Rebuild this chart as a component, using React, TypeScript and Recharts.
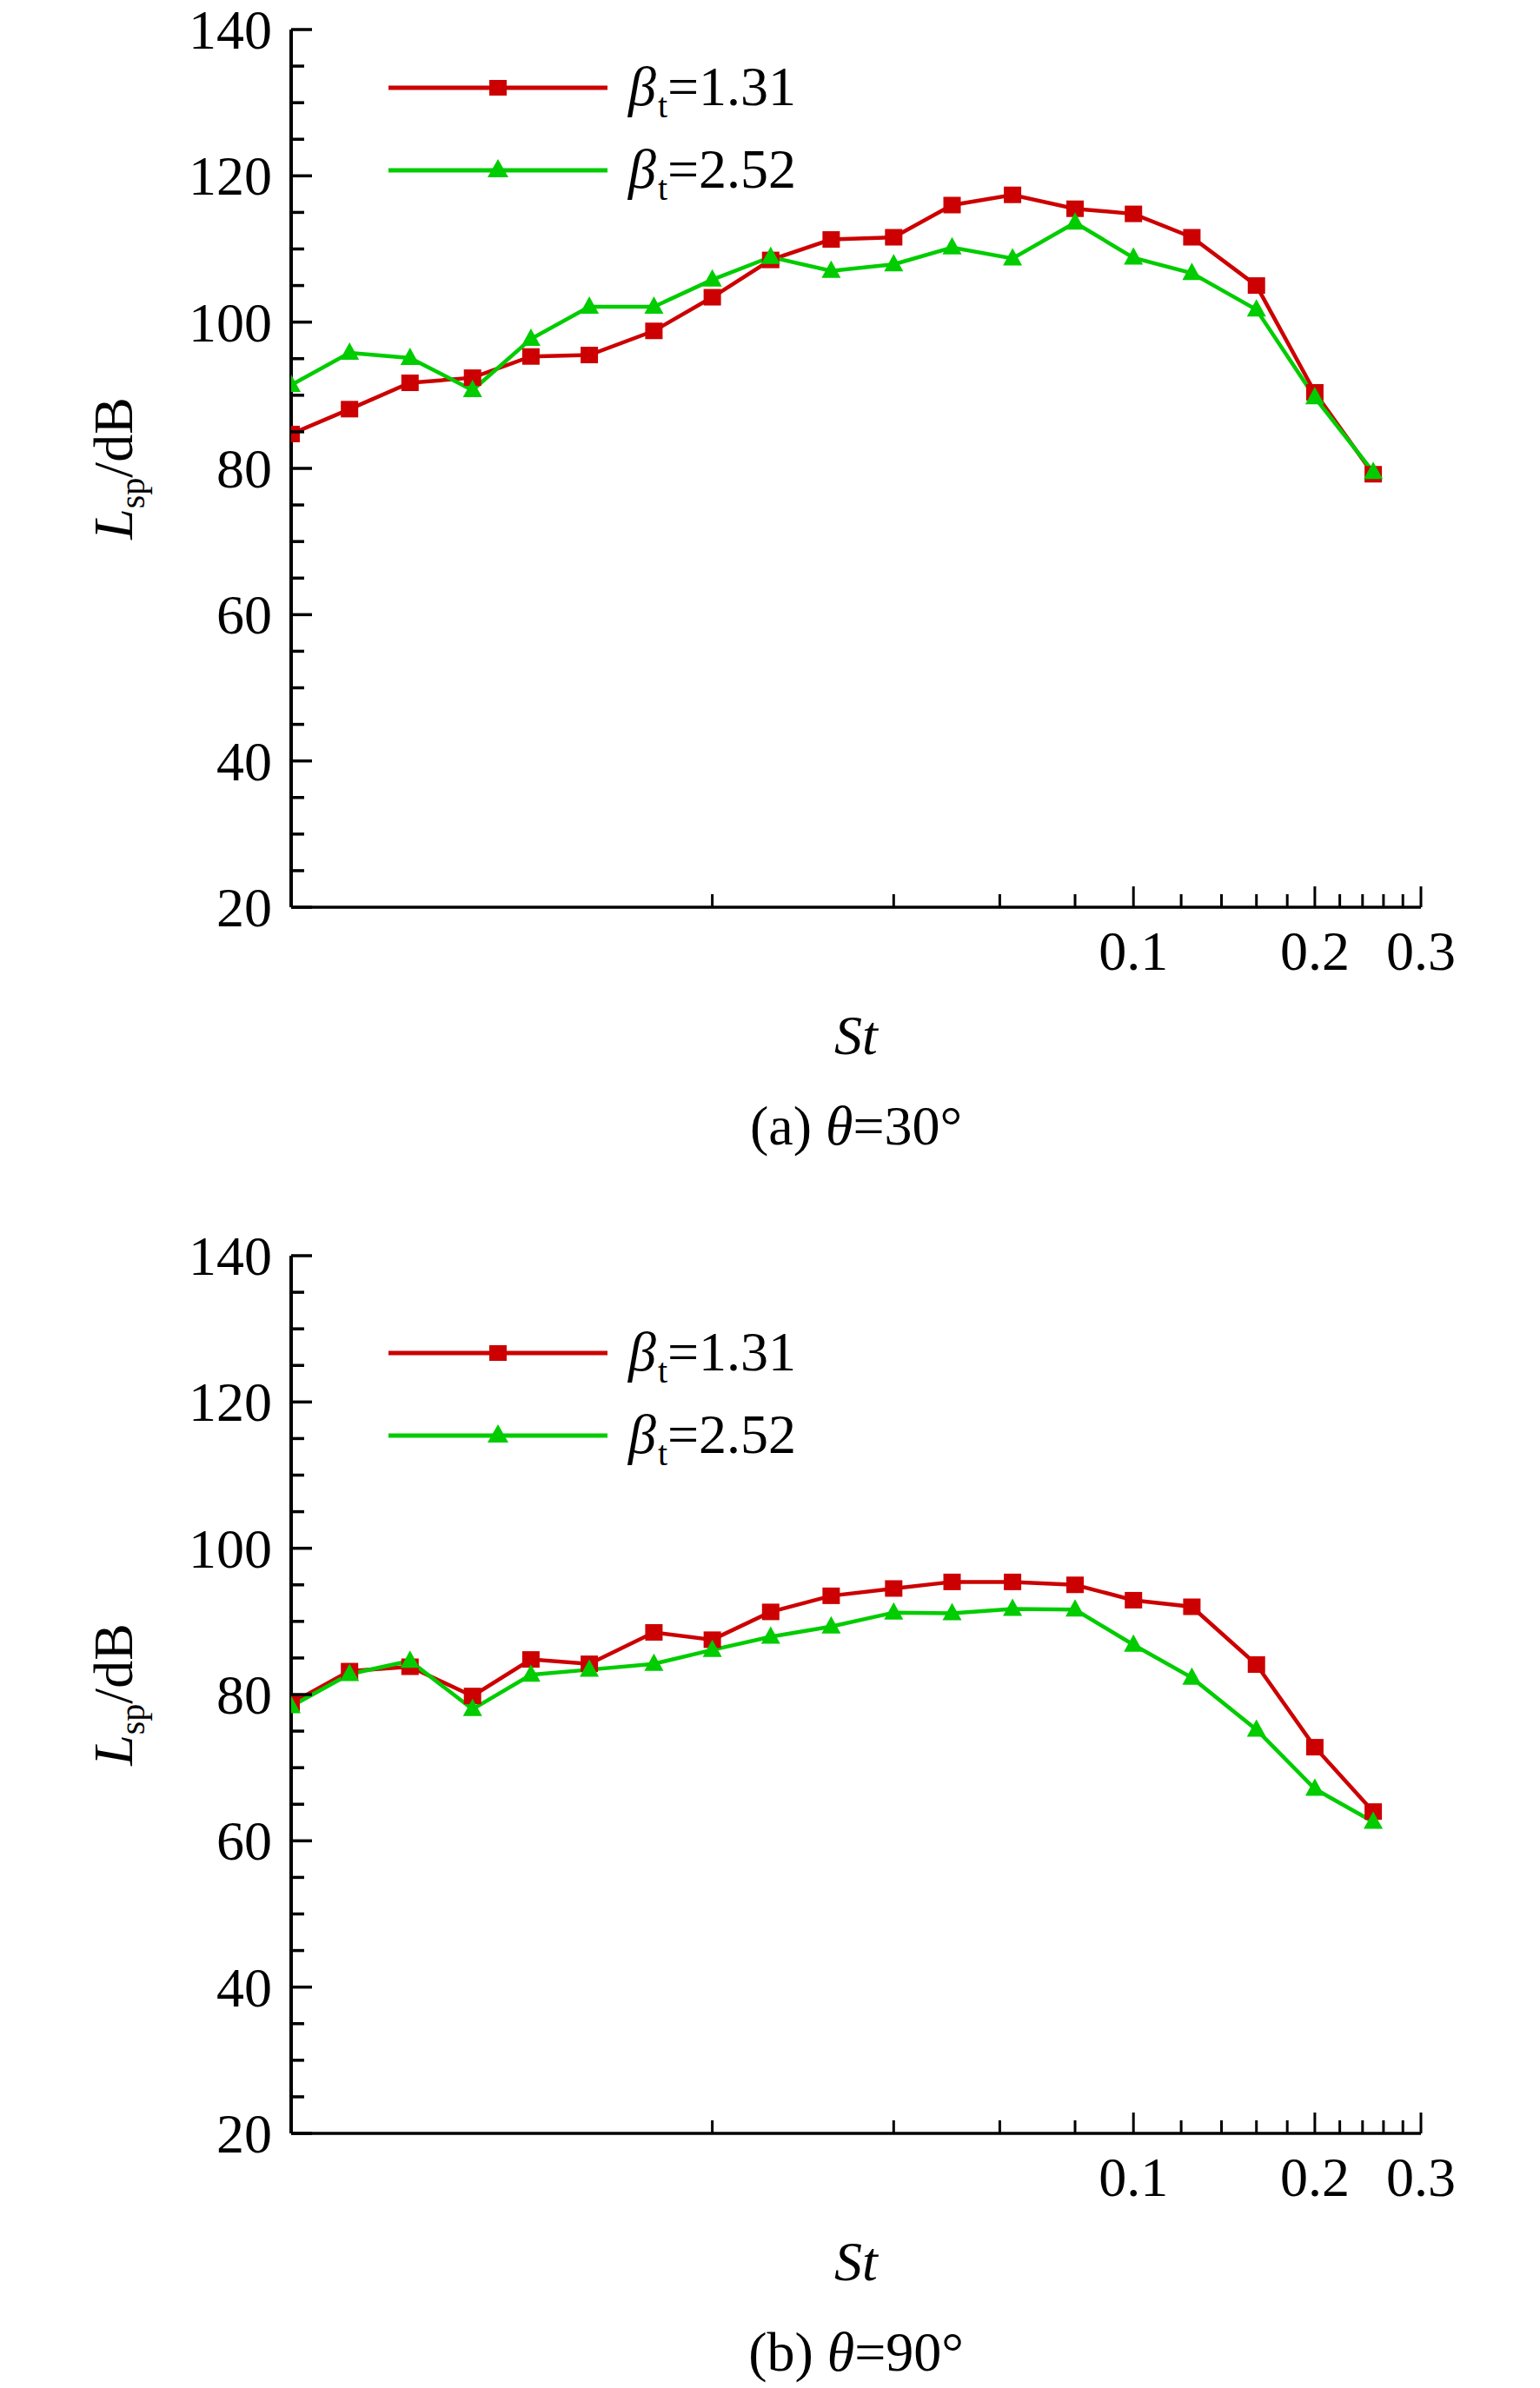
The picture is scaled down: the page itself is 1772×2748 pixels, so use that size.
import React from 'react';
import { LineChart, Line, XAxis, YAxis, Legend } from 'recharts';

// Strouhal numbers (1/3-octave band centres)
const ST_VALUES = [0.004, 0.005, 0.0063, 0.008, 0.01, 0.0125, 0.016, 0.02, 0.025, 0.0315, 0.04, 0.05, 0.063, 0.08, 0.1, 0.125, 0.16, 0.2, 0.25];

// (a) theta = 30 deg
const RED_30 = [84.7, 88.1, 91.7, 92.4, 95.3, 95.5, 98.8, 103.4, 108.5, 111.3, 111.6, 116.0, 117.4, 115.5, 114.8, 111.6, 105.0, 90.4, 79.2];
const GREEN_30 = [91.4, 95.8, 95.1, 90.7, 97.7, 102.1, 102.1, 105.8, 108.9, 107.0, 107.9, 110.2, 108.7, 113.6, 108.8, 106.7, 101.7, 89.7, 79.5];

// (b) theta = 90 deg
const RED_90 = [78.8, 83.2, 83.8, 79.8, 84.8, 84.2, 88.5, 87.5, 91.3, 93.5, 94.5, 95.4, 95.4, 95.0, 92.9, 92.0, 84.1, 72.8, 64.0];
const GREEN_90 = [78.4, 82.8, 84.6, 78.0, 82.7, 83.4, 84.2, 86.1, 87.9, 89.3, 91.2, 91.1, 91.7, 91.6, 86.8, 82.3, 75.2, 67.1, 62.6];

const X_TICKS = [0.02, 0.04, 0.06, 0.08, 0.1, 0.12, 0.14, 0.16, 0.18, 0.2, 0.22, 0.24, 0.26, 0.28, 0.3];
const X_LABELLED = [0.1, 0.2, 0.3];
const Y_TICKS = [20, 25, 30, 35, 40, 45, 50, 55, 60, 65, 70, 75, 80, 85, 90, 95, 100, 105, 110, 115, 120, 125, 130, 135, 140];
const Y_LABELLED = [20, 40, 60, 80, 100, 120, 140];

const SERIES_NAMES = ['1.31', '2.52'];

const RED = '#cc0000';
const GREEN = '#00cc00';
const FONT = '"Liberation Serif", "Times New Roman", serif';
const FS = 64;

const W = 1772;
const H = 1337;

function buildData(red: number[], green: number[]) {
  return ST_VALUES.map((st, i) => ({ st, b131: red[i], b252: green[i] }));
}

const XTick = (props: any) => {
  const { x, y, payload } = props;
  const v = payload.value;
  const major = X_LABELLED.includes(v);
  const len = major ? 24 : 15;
  return (
    <g>
      <line x1={x} x2={x} y1={y} y2={y - len} stroke="#000" strokeWidth={3} />
      {major && (
        <text x={x} y={y + 72} textAnchor="middle" fontFamily={FONT} fontSize={FS} fill="#000">
          {String(v)}
        </text>
      )}
    </g>
  );
};

const YTick = (props: any) => {
  const { x, y, payload } = props;
  const v = payload.value;
  const major = Y_LABELLED.includes(v);
  const len = major ? 24 : 15;
  return (
    <g>
      <line x1={x} x2={x + len} y1={y} y2={y} stroke="#000" strokeWidth={3.5} />
      {major && (
        <text x={x - 22} y={y + 22} textAnchor="end" fontFamily={FONT} fontSize={FS} fill="#000">
          {String(v)}
        </text>
      )}
    </g>
  );
};

const SquareDot = (props: any) => {
  const { cx, cy, index } = props;
  if (cx == null || cy == null) return <g key={'s' + index} />;
  return <rect key={'s' + index} x={cx - 10} y={cy - 9.5} width={20} height={19} fill={RED} />;
};

const TriDot = (props: any) => {
  const { cx, cy, index } = props;
  if (cx == null || cy == null) return <g key={'t' + index} />;
  const pts = `${cx},${cy - 12} ${cx - 11},${cy + 8} ${cx + 11},${cy + 8}`;
  return <polygon key={'t' + index} points={pts} fill={GREEN} />;
};

function makeLegend(rowY: number) {
  return () => {
    const rows = [
      { color: RED, name: SERIES_NAMES[0], shape: 'square' },
      { color: GREEN, name: SERIES_NAMES[1], shape: 'tri' },
    ];
    return (
      <svg width={W} height={rowY + 200} style={{ display: 'block', overflow: 'visible' }}>
        {rows.map((r, i) => {
          const y = rowY + i * 95;
          const mx = 573;
          return (
            <g key={i}>
              <line x1={447} x2={699} y1={y} y2={y} stroke={r.color} strokeWidth={5} />
              {r.shape === 'square' ? (
                <rect x={mx - 10} y={y - 9} width={20} height={18} fill={r.color} />
              ) : (
                <polygon points={`${mx},${y - 13} ${mx - 12},${y + 8} ${mx + 12},${y + 8}`} fill={r.color} />
              )}
              <text x={723} y={y + 20} fontFamily={FONT} fontSize={FS} fill="#000">
                <tspan fontStyle="italic">β</tspan>
                <tspan fontSize={40} dy={14} dx={2}>t</tspan>
                <tspan dy={-14}>={r.name}</tspan>
              </text>
            </g>
          );
        })}
      </svg>
    );
  };
}

function makeXLabel(tag: string, angle: string) {
  return (props: any) => {
    const vb = props.viewBox || { x: 335, y: 1044, width: 1300, height: 30 };
    const cx = vb.x + vb.width / 2;
    const y0 = vb.y;
    return (
      <g>
        <text x={cx} y={y0 + 169} textAnchor="middle" fontFamily={FONT} fontSize={FS} fontStyle="italic" fill="#000">
          St
        </text>
        <text x={cx} y={y0 + 273} textAnchor="middle" fontFamily={FONT} fontSize={FS} fill="#000">
          <tspan>{tag} </tspan>
          <tspan fontStyle="italic">θ</tspan>
          <tspan>={angle}</tspan>
        </text>
      </g>
    );
  };
}

const YLabel = (props: any) => {
  const vb = props.viewBox || { x: 275, y: 34, width: 60, height: 1010 };
  const bx = vb.x - 123;
  const cy = vb.y + vb.height / 2;
  return (
    <text
      transform={`translate(${bx}, ${cy}) rotate(-90)`}
      x={0}
      y={0}
      textAnchor="middle"
      fontFamily={FONT}
      fontSize={FS}
      fill="#000"
    >
      <tspan fontStyle="italic">L</tspan>
      <tspan fontSize={40} dy={14}>sp</tspan>
      <tspan dy={-14}>/dB</tspan>
    </text>
  );
};

function Panel(props: { red: number[]; green: number[]; tag: string; angle: string; legendY: number }) {
  const data = buildData(props.red, props.green);
  return (
    <LineChart width={W} height={H} data={data} margin={{ top: 34, right: 137, bottom: 263, left: 275 }}>
      <XAxis
        dataKey="st"
        type="number"
        scale="log"
        domain={[0.004, 0.3]}
        allowDataOverflow
        ticks={X_TICKS}
        interval={0}
        tickSize={0}
        tickMargin={0}
        tickLine={false}
        axisLine={{ stroke: '#000', strokeWidth: 3.5 }}
        tick={<XTick />}
        height={30}
        label={makeXLabel(props.tag, props.angle)}
      />
      <YAxis
        type="number"
        domain={[20, 140]}
        ticks={Y_TICKS}
        interval={0}
        tickSize={0}
        tickMargin={0}
        tickLine={false}
        axisLine={{ stroke: '#000', strokeWidth: 4 }}
        tick={<YTick />}
        width={60}
        label={YLabel}
      />
      <Legend
        layout="horizontal"
        verticalAlign="middle"
        align="center"
        wrapperStyle={{ left: 0, top: 0, width: W, height: props.legendY + 200 }}
        content={makeLegend(props.legendY)}
      />
      <Line
        type="linear"
        dataKey="b131"
        stroke={RED}
        strokeWidth={4.5}
        dot={SquareDot}
        activeDot={false}
        isAnimationActive={false}
      />
      <Line
        type="linear"
        dataKey="b252"
        stroke={GREEN}
        strokeWidth={4.5}
        dot={TriDot}
        activeDot={false}
        isAnimationActive={false}
      />
    </LineChart>
  );
}

export default function App() {
  return (
    <div style={{ position: 'absolute', left: 0, top: 0, width: W, height: 2748, background: '#fff' }}>
      <div style={{ position: 'absolute', left: 0, top: 0 }}>
        <Panel red={RED_30} green={GREEN_30} tag="(a)" angle="30°" legendY={101} />
      </div>
      <div style={{ position: 'absolute', left: 0, top: 1411 }}>
        <Panel red={RED_90} green={GREEN_90} tag="(b)" angle="90°" legendY={146} />
      </div>
    </div>
  );
}
